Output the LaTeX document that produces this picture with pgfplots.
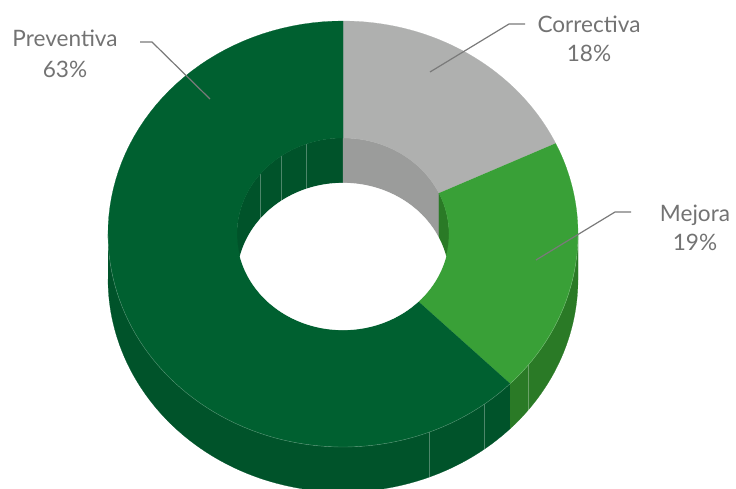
\documentclass[border=0pt]{standalone}
\usepackage{pgfplots}
\pgfplotsset{compat=1.18}
\usepackage{pgfplotstable}
\usepackage{fontspec}
\setmainfont{Lato}
\definecolor{cCor}{HTML}{AFB0AF}
\definecolor{cCorW}{HTML}{9B9C9B}
\definecolor{cMej}{HTML}{39A037}
\definecolor{cMejS}{HTML}{2A7A26}
\definecolor{cPre}{HTML}{006030}
\definecolor{cPreS}{HTML}{00532A}
\definecolor{txt}{HTML}{737373}
\definecolor{lead}{HTML}{7A7A7A}

\pgfplotstableread{
label value
Correctiva 18.0
Mejora 19.4
Preventiva 62.6
}\shares
\pgfplotstablegetelem{0}{value}\of\shares \let\vCor\pgfplotsretval
\pgfplotstablegetelem{1}{value}\of\shares \let\vMej\pgfplotsretval
\pgfplotstablegetelem{2}{value}\of\shares \let\vPre\pgfplotsretval

% geometry (pixel units)
\def\cx{343}\def\cy{234}
\def\Rxo{235}\def\Ryo{213}
\def\Rxi{106}\def\Ryi{96}
\def\dep{45}
\pgfmathsetmacro\aZ{90}
\pgfmathsetmacro\aA{90-3.6*\vCor}
\pgfmathsetmacro\aB{\aA-3.6*\vMej}
\pgfmathsetmacro\aC{\aB-3.6*\vPre}
\pgfmathsetmacro\tl{asin(\dep/(2*\Ryi))}
\pgfmathsetmacro\tlA{180-\tl}
\pgfmathsetmacro\tlB{180+\tl}
\pgfmathsetmacro\tlC{360-\tl}

% #1 a1, #2 b1, #3 o/i, #4 off1, #5 a2, #6 b2, #7 o/i, #8 off2, #9 colour
\newcommand{\band}[9]{%
\addplot[fill=#9, draw=#9, line width=0.2pt, domain=0:181, samples=182, variable=\k]
 ({\cx + (\k<90.5 ? \csname Rx#3\endcsname*cos(#1+(#2-#1)*\k/90) : \csname Rx#7\endcsname*cos(#5+(#6-#5)*(\k-91)/90))},
  {\cy + (\k<90.5 ? #4-\csname Ry#3\endcsname*sin(#1+(#2-#1)*\k/90) : #8-\csname Ry#7\endcsname*sin(#5+(#6-#5)*(\k-91)/90))});}
% facet line on a wall at angle #1, radii #2 (o/i)
\newcommand{\facet}[2]{%
\addplot[draw=white, opacity=0.3, line width=0.5pt, domain=0:1, samples=2, variable=\k]
 ({\cx+\csname Rx#2\endcsname*cos(#1)},{\cy-\csname Ry#2\endcsname*sin(#1)+\dep*\k});}

\begin{document}
\begin{tikzpicture}
\begin{axis}[
  scale only axis, width=736bp, height=489bp,
  xmin=0, xmax=736, ymin=0, ymax=489, y dir=reverse,
  hide axis, clip=true,
]
% outer side walls
\band{-180}{\aB}{o}{0}{\aB}{-180}{o}{\dep}{cPreS}
\band{\aB}{0}{o}{0}{0}{\aB}{o}{\dep}{cMejS}
% inner walls (back half of the hole)
\band{90}{180}{i}{0}{180}{90}{i}{\dep}{cPreS}
\band{\aA}{90}{i}{0}{90}{\aA}{i}{\dep}{cCorW}
\band{0}{\aA}{i}{0}{\aA}{0}{i}{\dep}{cMejS}
% facet lines
\facet{-68.5}{o}
\facet{-53.1}{o}
\facet{-38.1}{o}
\facet{141.5}{i}
\facet{125.8}{i}
\facet{110.4}{i}
% top faces
\band{\aZ}{\aA}{o}{0}{\aA}{\aZ}{i}{0}{cCor}
\band{\aA}{\aB}{o}{0}{\aB}{\aA}{i}{0}{cMej}
\band{\aB}{\aC}{o}{0}{\aC}{\aB}{i}{0}{cPre}
% seam along the front outer edge
\addplot[draw=white, opacity=0.3, line width=0.4pt, domain=-180:0, samples=90]
 ({\cx+\Rxo*cos(x)},{\cy-\Ryo*sin(x)});
% hole opening
\band{\tl}{\tlA}{i}{\dep}{\tlB}{\tlC}{i}{0}{white}
% leader lines
\addplot[lead, line width=1.2bp] coordinates {(140,42) (152,42) (210,99)};
\addplot[lead, line width=1.2bp] coordinates {(525,24) (509,24) (430,72)};
\addplot[lead, line width=1.2bp] coordinates {(631,212) (615,212) (536,260)};
% labels
\node[anchor=base, text=txt, inner sep=0pt, font=\fontsize{22.6bp}{26bp}\selectfont] at (axis cs:65,47) {Preventiva};
\node[anchor=base, text=txt, inner sep=0pt, font=\fontsize{22.6bp}{26bp}\selectfont] at (axis cs:65,78) {63\%};
\node[anchor=base, text=txt, inner sep=0pt, font=\fontsize{22.6bp}{26bp}\selectfont] at (axis cs:589,33) {Correctiva};
\node[anchor=base, text=txt, inner sep=0pt, font=\fontsize{22.6bp}{26bp}\selectfont] at (axis cs:589,62) {18\%};
\node[anchor=base, text=txt, inner sep=0pt, font=\fontsize{22.6bp}{26bp}\selectfont] at (axis cs:695,221) {Mejora};
\node[anchor=base, text=txt, inner sep=0pt, font=\fontsize{22.6bp}{26bp}\selectfont] at (axis cs:695,250) {19\%};
\end{axis}
\pgfresetboundingbox
\path (current axis.south west) rectangle (current axis.north east);
\end{tikzpicture}
\end{document}
